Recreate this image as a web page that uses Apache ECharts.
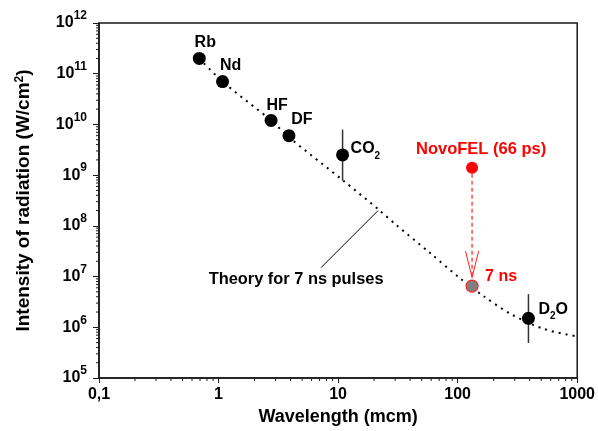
<!DOCTYPE html>
<html><head><meta charset="utf-8">
<script src="https://cdn.jsdelivr.net/npm/echarts@6/dist/echarts.min.js"></script>
<style>html,body{margin:0;padding:0;background:#fff}#c{width:598px;height:431px}</style>
</head><body><div id="c"></div>
<script>
// ---- data ----
const xTickLabels = ['0,1', '1', '10', '100', '1000'];
const xMin = 0.1, xMax = 1000;
const yMin = 1e5, yMax = 1e12;

const laserNames = ['Rb', 'Nd', 'HF', 'DF', 'CO2', 'D2O'];
const laserLabels = ['Rb', 'Nd', 'HF', 'DF', '{t|CO}{sub|2}', '{t|D}{sub|2}{t|O}'];
const laserWavelength = [0.69, 1.08, 2.75, 3.88, 10.9, 391];
const laserIntensity = [2.0e11, 7.0e10, 1.2e10, 6.0e9, 2.5e9, 1.5e6];
const errWavelength = [10.9, 391];
const errLow = [7.8e8, 4.9e5];
const errHigh = [7.9e9, 4.5e6];

const theoryWavelength = [0.69, 1.08, 2.75, 3.88, 11.2, 22.6, 30.2, 58, 105, 164, 281, 532, 1000];
const theoryIntensity = [2.0e11, 7.0e10, 1.2e10, 5.6e9, 7.6e8, 1.95e8, 1.07e8, 3.0e7, 9.2e6, 4.15e6, 1.8e6, 9.2e5, 6.6e5];

const novoWavelength = 132;
const novoIntensity = 1.4e9;
const novo7nsIntensity = 6.5e6;
const theoryNoteAnchor = [21.6, 2.0e8];

// ---- styles ----
const FONT = 'Liberation Sans, Arial, sans-serif';
const AX = '#1a1a1a';

// label offsets (relative to marker centre)
const laserLabelCfg = [
  {offset: [6, -16], align: 'center'},
  {offset: [8, -16], align: 'center'},
  {offset: [6, -15], align: 'center'},
  {offset: [13, -16], align: 'center'},
  {offset: [8, -6], align: 'left'},
  {offset: [10, -9], align: 'left'}
];

const richSub = {
  t: {fontSize: 16, fontWeight: 'bold', fontFamily: FONT, color: '#000', lineHeight: 24},
  sub: {fontSize: 10, fontWeight: 'bold', fontFamily: FONT, color: '#000', lineHeight: 10, verticalAlign: 'bottom'}
};

const chart = echarts.init(document.getElementById('c'), null, {renderer: 'canvas'});

function minorTicks(params, api) {
  const children = [];
  const style = {stroke: AX, lineWidth: 1};
  for (let e = -1; e < 3; e++) {
    for (let m = 2; m <= 9; m++) {
      const v = m * Math.pow(10, e);
      const p = api.coord([v, yMin]);
      children.push({type: 'line', shape: {x1: p[0], y1: p[1], x2: p[0], y2: p[1] + 3}, style});
    }
  }
  for (let e = 5; e < 12; e++) {
    for (let m = 2; m <= 9; m++) {
      const v = m * Math.pow(10, e);
      const p = api.coord([xMin, v]);
      children.push({type: 'line', shape: {x1: p[0] - 3, y1: p[1], x2: p[0], y2: p[1]}, style});
    }
  }
  return {type: 'group', children};
}

const option = {
  animation: false,
  backgroundColor: '#fff',
  grid: {left: 99, right: 18, top: 23, bottom: 51, show: true, borderColor: AX, borderWidth: 1.5, backgroundColor: 'transparent'},
  xAxis: {
    type: 'log', logBase: 10, min: xMin, max: xMax, splitNumber: 4,
    axisLine: {show: true, onZero: false, lineStyle: {color: AX, width: 1.5}},
    axisTick: {show: true, inside: false, length: 5, lineStyle: {color: AX, width: 1}},
    minorTick: {show: false},
    splitLine: {show: false},
    axisLabel: {
      margin: 9, fontSize: 16, fontWeight: 'bold', fontFamily: FONT, color: '#000',
      formatter: v => xTickLabels[Math.round(Math.log10(v)) + 1]
    },
    name: 'Wavelength (mcm)', nameLocation: 'middle', nameGap: 30,
    nameTextStyle: {fontSize: 18, fontWeight: 'bold', fontFamily: FONT, color: '#000'}
  },
  yAxis: {
    type: 'log', logBase: 10, min: yMin, max: yMax, splitNumber: 7,
    axisLine: {show: true, onZero: false, lineStyle: {color: AX, width: 1.5}},
    axisTick: {show: true, inside: false, length: 6, lineStyle: {color: AX, width: 1}},
    minorTick: {show: false},
    splitLine: {show: false},
    axisLabel: {
      margin: 12,
      formatter: v => '{b|10}{s|' + Math.round(Math.log10(v)) + '}',
      rich: {
        b: {fontSize: 16, fontWeight: 'bold', fontFamily: FONT, color: '#000', lineHeight: 26},
        s: {fontSize: 12, fontWeight: 'bold', fontFamily: FONT, color: '#000', lineHeight: 12, verticalAlign: 'top'}
      }
    },
    name: 'Intensity of radiation (W/cm{s|2})', nameLocation: 'middle', nameGap: 66, nameRotate: 90,
    nameTextStyle: {
      fontSize: 19, fontWeight: 'bold', fontFamily: FONT, color: '#000',
      rich: {s: {fontSize: 12, fontWeight: 'bold', fontFamily: FONT, color: '#000', verticalAlign: 'top', lineHeight: 12}}
    }
  },
  series: [
    {
      type: 'custom', name: 'minorTicks', clip: false, silent: true, z: 1,
      data: [[1, 1e8]], encode: {x: 0, y: 1},
      renderItem: minorTicks
    },
    {
      type: 'line', name: 'Theory', z: 2, symbol: 'none', smooth: 0.3,
      data: theoryWavelength.map((x, i) => [x, theoryIntensity[i]]),
      lineStyle: {color: '#000', width: 2, type: [2, 5], cap: 'butt'}
    },
    {
      type: 'custom', name: 'errors', z: 3,
      data: errWavelength.map((x, i) => [x, errLow[i], errHigh[i]]),
      encode: {x: 0, y: [1, 2]},
      renderItem: (params, api) => {
        const a = api.coord([api.value(0), api.value(1)]);
        const b = api.coord([api.value(0), api.value(2)]);
        return {type: 'line', shape: {x1: a[0], y1: a[1], x2: b[0], y2: b[1]}, style: {stroke: '#333', lineWidth: 1.5}};
      }
    },
    {
      type: 'scatter', name: 'lasers', z: 5, symbol: 'circle', symbolSize: 13,
      itemStyle: {color: '#000', opacity: 1},
      data: laserWavelength.map((x, i) => ({
        value: [x, laserIntensity[i]], name: laserNames[i],
        label: {
          show: true, position: 'inside', offset: laserLabelCfg[i].offset, align: laserLabelCfg[i].align,
          formatter: laserLabels[i], rich: richSub,
          fontSize: 16, fontWeight: 'bold', fontFamily: FONT, color: '#000'
        }
      }))
    },
    {
      type: 'custom', name: 'arrow', z: 4, clip: false,
      data: [[novoWavelength, novoIntensity, novo7nsIntensity]],
      encode: {x: 0, y: [1, 2]},
      renderItem: (params, api) => {
        const top = api.coord([api.value(0), api.value(1)]);
        const bot = api.coord([api.value(0), api.value(2)]);
        const tipY = bot[1] - 8.5;
        const x = bot[0];
        return {type: 'group', children: [
          {type: 'line', shape: {x1: top[0], y1: top[1] + 6, x2: x, y2: tipY}, style: {stroke: '#ff4a4a', lineWidth: 1.5, lineDash: [4, 3]}},
          {type: 'polyline', shape: {points: [[x - 6.6, tipY - 26.6], [x, tipY], [x + 6.6, tipY - 26.6]]}, style: {stroke: '#ff2020', lineWidth: 1, fill: null}}
        ]};
      }
    },
    {
      type: 'scatter', name: 'NovoFEL', z: 6, symbol: 'circle', symbolSize: 12,
      itemStyle: {color: '#ff0000', opacity: 1},
      data: [{
        value: [novoWavelength, novoIntensity],
        label: {show: true, position: 'inside', offset: [9, -18], formatter: 'NovoFEL (66 ps)',
          fontSize: 16.5, fontWeight: 'bold', fontFamily: FONT, color: '#ff0000'}
      }]
    },
    {
      type: 'scatter', name: '7 ns', z: 6, symbol: 'circle', symbolSize: 12,
      itemStyle: {color: '#808080', borderColor: '#ff2020', borderWidth: 1.2, opacity: 1},
      data: [{
        value: [novoWavelength, novo7nsIntensity],
        label: {show: true, position: 'inside', offset: [13, -9], align: 'left', formatter: '7 ns',
          fontSize: 16, fontWeight: 'bold', fontFamily: FONT, color: '#ff0000'}
      }]
    },
    {
      type: 'custom', name: 'theoryNote', z: 4, clip: false,
      data: [theoryNoteAnchor], encode: {x: 0, y: 1},
      renderItem: (params, api) => {
        const p = api.coord([api.value(0), api.value(1)]);
        return {type: 'group', children: [
          {type: 'line', shape: {x1: p[0] - 57, y1: p[1] + 57, x2: p[0], y2: p[1]}, style: {stroke: '#000', lineWidth: 1}},
          {type: 'text', x: p[0] - 82, y: p[1] + 69, style: {text: 'Theory for 7 ns pulses', align: 'center', verticalAlign: 'middle',
            font: 'bold 16.4px ' + FONT, fill: '#000'}}
        ]};
      }
    }
  ]
};
chart.setOption(option);
</script>
</body></html>
